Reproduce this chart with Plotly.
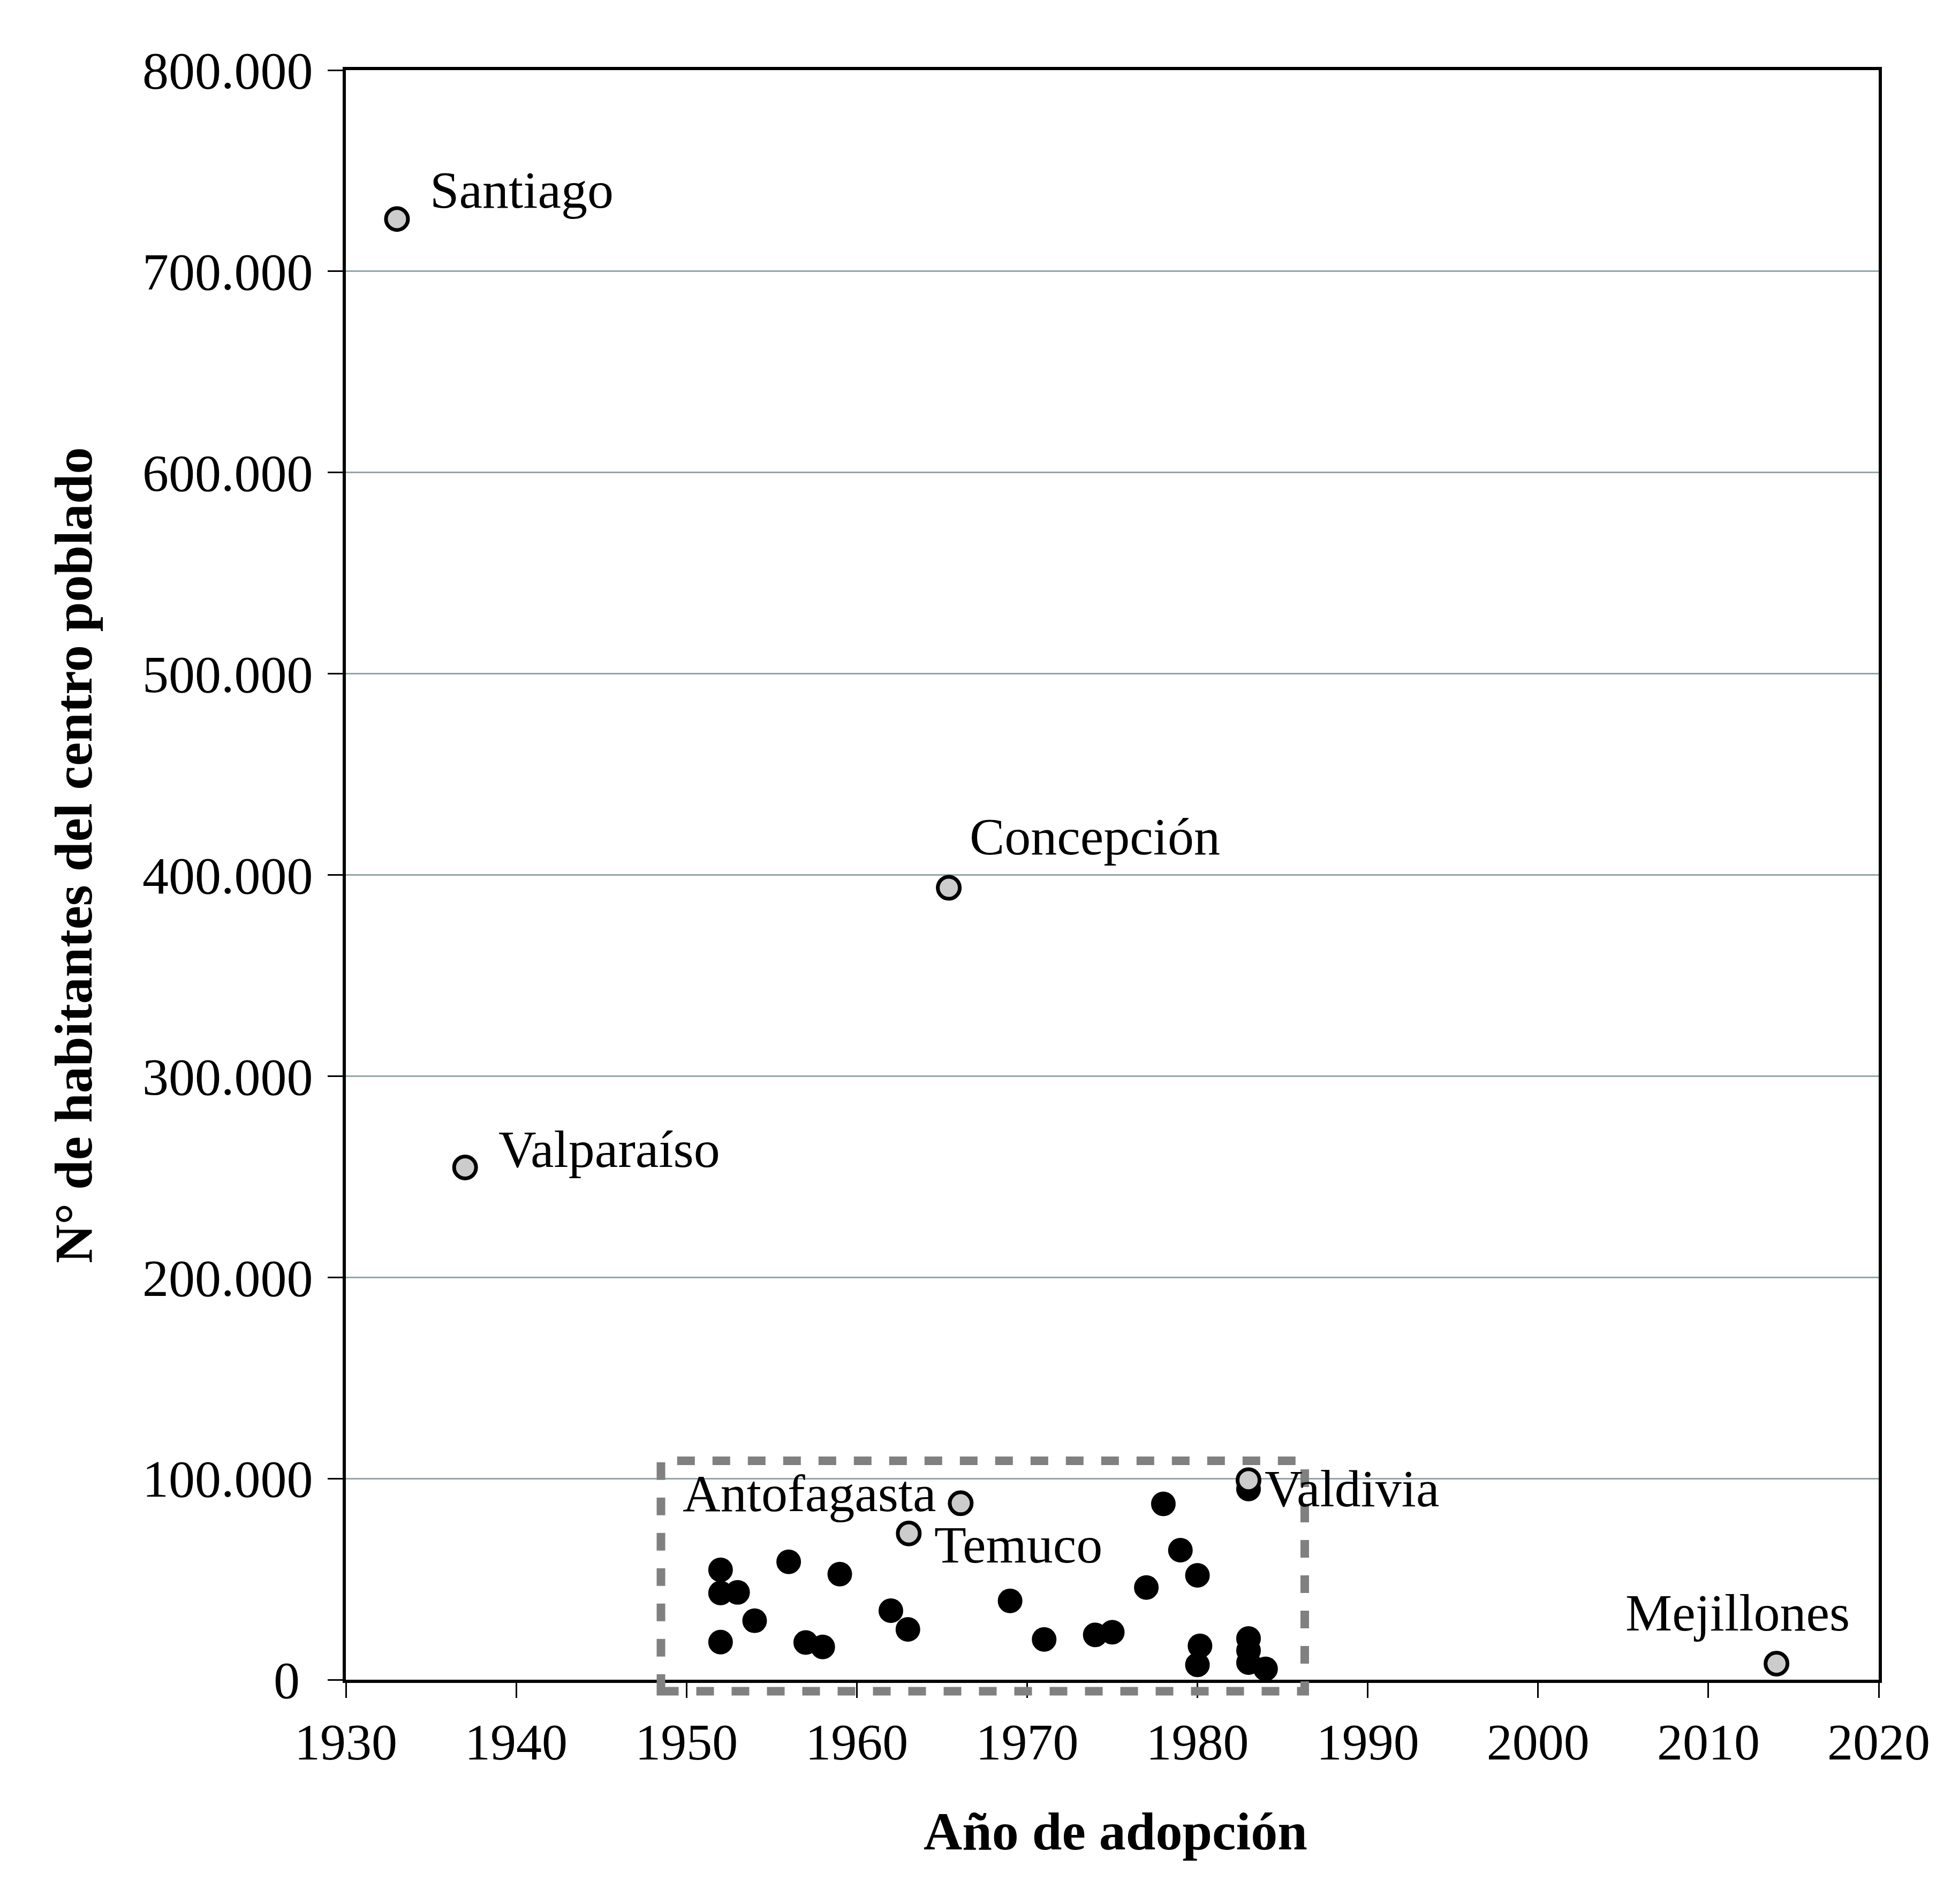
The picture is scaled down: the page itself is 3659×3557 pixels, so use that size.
import plotly.graph_objects as go

# ---- data ----
label_names = ["Santiago", "Valparaíso", "Concepción", "Antofagasta", "Temuco", "Valdivia", "Mejillones"]
label_years = [1933, 1937, 1965.4, 1966.1, 1963.05, 1983, 2014]
label_pop = [726000, 254600, 393600, 87700, 72700, 99200, 8000]

other_years = [1952, 1952, 1953, 1954, 1952, 1956, 1959, 1957, 1958, 1962, 1963,
               1969, 1971, 1974, 1975, 1977, 1978, 1979, 1980, 1980.15, 1980,
               1983, 1983, 1983, 1983, 1984]
other_pop = [54600, 43100, 43400, 29300, 18700, 58600, 52500, 18500, 16300, 34300, 25000,
             39200, 20000, 22300, 23600, 45800, 87400, 64400, 51900, 16800, 7400,
             94800, 20500, 14500, 8500, 5400]

y_tickvals = [0, 100000, 200000, 300000, 400000, 500000, 600000, 700000, 800000]
y_ticktext = ["0\u00a0", "100.000", "200.000", "300.000", "400.000", "500.000", "600.000", "700.000", "800.000"]
x_tickvals = [1930, 1940, 1950, 1960, 1970, 1980, 1990, 2000, 2010, 2020]

# axis ranges
x_range = [1930, 2020]
y_range = [0, 800000]

# dashed box around the cluster (data coords)
box_x = [1948.5, 1986.3]
box_y = [-5700, 108800]

# label offsets (pixels): xshift, yshift, xanchor
label_style = {
    "Santiago": (60, 54, "left"),
    "Valparaíso": (60, 34, "left"),
    "Concepción": (37, 96, "left"),
    "Antofagasta": (-43, 18, "right"),
    "Temuco": (46, -21, "left"),
    "Valdivia": (28, -16, "left"),
    "Mejillones": (-73, 95, "center"),
}

FONT = "Liberation Serif"

fig = go.Figure()

fig.add_trace(go.Scatter(
    x=other_years, y=other_pop, mode="markers",
    marker=dict(color="black", size=40, line=dict(color="black", width=6)),
    showlegend=False, cliponaxis=False,
))
fig.add_trace(go.Scatter(
    x=label_years, y=label_pop, mode="markers",
    marker=dict(color="#cccccc", size=41, line=dict(color="black", width=7)),
    showlegend=False, cliponaxis=False,
))

for n, xv, yv in zip(label_names, label_years, label_pop):
    xs, ys, xa = label_style[n]
    fig.add_annotation(x=xv, y=yv, xref="x", yref="y", text=n, showarrow=False,
                       xanchor=xa, yanchor="middle", xshift=xs, yshift=ys,
                       font=dict(family=FONT, size=98, color="black"))

# box expressed as fractions of the axis domains so it is not clipped at the axis
def xdom(v):
    return (v - x_range[0]) / (x_range[1] - x_range[0])

def ydom(v):
    return (v - y_range[0]) / (y_range[1] - y_range[0])

fig.add_shape(type="rect", xref="x domain", yref="y domain",
              x0=xdom(box_x[0]), x1=xdom(box_x[1]), y0=ydom(box_y[0]), y1=ydom(box_y[1]),
              line=dict(color="#808080", width=16, dash="33px,33px"),
              fillcolor="rgba(0,0,0,0)", layer="above")

# axis titles
fig.add_annotation(xref="paper", yref="paper", x=0.502, y=-0.0944,
                   text="<b>Año de adopción</b>", showarrow=False,
                   xanchor="center", yanchor="middle",
                   font=dict(family=FONT, size=100, color="black"))
fig.add_annotation(xref="paper", yref="paper", x=-0.1776, y=0.512,
                   text="<b>N° de habitantes del centro poblado</b>", showarrow=False,
                   xanchor="center", yanchor="middle", textangle=-90,
                   font=dict(family=FONT, size=100, color="black"))

fig.update_xaxes(range=x_range, tickvals=x_tickvals, showgrid=False, zeroline=False,
                 showline=True, linewidth=6, linecolor="black", mirror=True,
                 ticks="outside", ticklen=28, tickwidth=2.5, tickcolor="black",
                 tickfont=dict(family=FONT, size=96, color="black"),
                 ticklabelstandoff=0)
fig.update_yaxes(range=y_range, tickvals=y_tickvals, ticktext=y_ticktext,
                 showgrid=True, gridcolor="#93a5ad", gridwidth=3, zeroline=False,
                 showline=True, linewidth=6, linecolor="black", mirror=True,
                 ticks="outside", ticklen=28, tickwidth=2.5, tickcolor="black",
                 tickfont=dict(family=FONT, size=98, color="black"),
                 ticklabelstandoff=8)

fig.update_layout(width=3651, height=3549,
                  margin=dict(l=638, r=150, t=123, b=419, autoexpand=False),
                  plot_bgcolor="white", paper_bgcolor="white",
                  font=dict(family=FONT, color="black"))

fig.write_html("out.html")
